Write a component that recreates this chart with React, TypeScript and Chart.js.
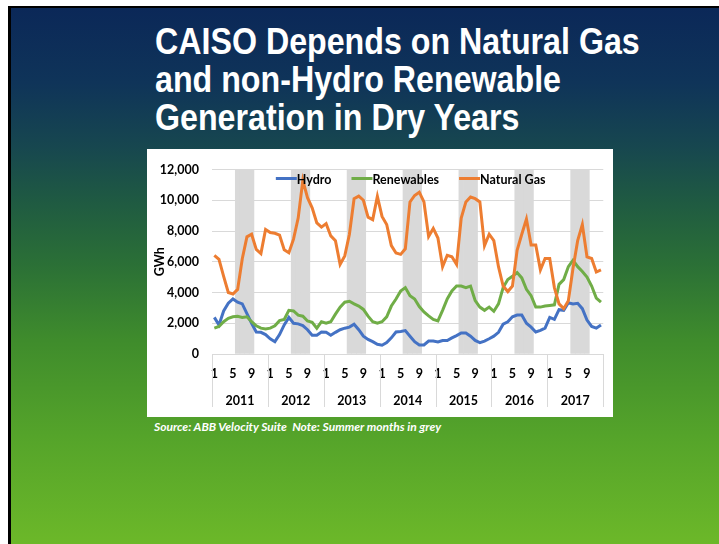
import React, { useEffect, useRef } from "react";
import { Chart, registerables } from "chart.js";

Chart.register(...registerables);

const years = ["2011", "2012", "2013", "2014", "2015", "2016", "2017"];
const monthTickLabels = ["1", "", "", "", "5", "", "", "", "9", "", "", ""];
const summerMonths = [6, 7, 8, 9];
const bandHeight = 12000;

const hydro = [
  2380, 1890, 2800, 3300, 3580, 3370, 3260, 2630, 2000, 1430, 1410, 1260,
  990, 800, 1260, 1890, 2380, 2000, 1960, 1850, 1580, 1220, 1220, 1430,
  1410, 1220, 1410, 1580, 1680, 1750, 1940, 1580, 1160, 950, 800, 630,
  570, 740, 1050, 1430, 1470, 1520, 1160, 800, 590, 590, 840, 840,
  780, 880, 880, 1050, 1200, 1370, 1370, 1160, 880, 740, 840, 990,
  1160, 1410, 1940, 2100, 2420, 2530, 2530, 2000, 1750, 1430, 1540, 1680,
  2380, 2250, 2880, 2840, 3330, 3260, 3300, 2950, 2210, 1790, 1680, 1890,
];

const renewables = [
  1680, 1790, 2100, 2320, 2420, 2460, 2380, 2420, 2100, 1830, 1680, 1620,
  1680, 1830, 2170, 2250, 2840, 2800, 2530, 2460, 2150, 2060, 1680, 2100,
  2000, 2100, 2590, 3050, 3370, 3430, 3260, 3120, 2900, 2460, 2100, 2000,
  2100, 2420, 3120, 3580, 4100, 4320, 3790, 3580, 3090, 2740, 2480, 2250,
  2150, 2840, 3580, 4100, 4420, 4420, 4320, 4420, 3470, 3050, 2840, 3050,
  2780, 3260, 4320, 4840, 5050, 5300, 4950, 4210, 3790, 3050, 3050, 3120,
  3160, 3200, 4530, 4840, 5680, 6100, 5680, 5370, 5010, 4420, 3640, 3370,
];

const naturalGas = [
  6420, 6150, 5050, 4000, 3900, 4200, 6200, 7620, 7790, 6800, 6530, 8100,
  7900, 7850, 7730, 6780, 6590, 7470, 8840, 11300, 10170, 9510, 8530, 8250,
  8480, 7680, 7370, 5830, 6380, 7790, 10100, 10270, 10000, 8900, 8740, 10250,
  8950, 8420, 7050, 6570, 6480, 6840, 9890, 10310, 10525, 9890, 7640, 8170,
  7540, 5680, 6420, 6320, 5830, 8840, 9890, 10210, 10100, 9890, 7050, 7790,
  7370, 5680, 4420, 4060, 4420, 6740, 7790, 8780, 7090, 7090, 5470, 6210,
  6210, 4320, 3260, 2950, 3470, 5580, 7370, 8420, 6320, 6210, 5330, 5470,
];

const seriesNames = ["Hydro", "Renewables", "Natural Gas"];
const seriesColors = ["#4472C4", "#70AD47", "#ED7D31"];

const FONT = "Lato, 'Open Sans', sans-serif";

const legendPlugin = {
  id: "insideLegend",
  afterDatasetsDraw(chart: any) {
    const { ctx, chartArea } = chart;
    ctx.save();
    ctx.font = `bold 12.5px ${FONT}`;
    const sample = 21;
    const gap = 20;
    const widths = seriesNames.map((n) => sample + ctx.measureText(n).width);
    const total = widths.reduce((a, b) => a + b, 0) + gap * (widths.length - 1);
    let x = (chartArea.left + chartArea.right) / 2 - total / 2 + 3;
    const y = chartArea.top + 9;
    seriesNames.forEach((n, i) => {
      ctx.strokeStyle = seriesColors[i];
      ctx.lineWidth = 3;
      ctx.beginPath();
      ctx.moveTo(x, y);
      ctx.lineTo(x + sample, y);
      ctx.stroke();
      ctx.fillStyle = "#000";
      ctx.textBaseline = "middle";
      ctx.textAlign = "left";
      ctx.fillText(n, x + sample, y + 1);
      x += widths[i] + gap;
    });
    ctx.restore();
  },
};

const separatorPlugin = {
  id: "yearSeparators",
  afterDraw(chart: any) {
    const { ctx, chartArea } = chart;
    const x2 = chart.scales.x2;
    const half = (x2.right - x2.left) / (years.length * 2);
    ctx.save();
    ctx.strokeStyle = "#D9D9D9";
    ctx.lineWidth = 1;
    for (let k = 0; k <= years.length; k++) {
      const px =
        k < years.length
          ? x2.getPixelForValue(k) - half
          : x2.getPixelForValue(years.length - 1) + half;
      const xx = Math.round(px) + 0.5;
      ctx.beginPath();
      ctx.moveTo(xx, chartArea.bottom);
      ctx.lineTo(xx, x2.bottom);
      ctx.stroke();
    }
    ctx.restore();
  },
};

function ChartPanel() {
  const ref = useRef<HTMLCanvasElement | null>(null);
  useEffect(() => {
    if (!ref.current) return;
    const labels: string[] = [];
    const bands: (number | null)[] = [];
    years.forEach(() => {
      monthTickLabels.forEach((m, i) => {
        labels.push(m);
        bands.push(summerMonths.includes(i + 1) ? bandHeight : null);
      });
    });
    const chart = new Chart(ref.current, {
      type: "bar",
      data: {
        labels,
        datasets: [
          {
            type: "line",
            label: seriesNames[2],
            data: naturalGas,
            borderColor: seriesColors[2],
            backgroundColor: seriesColors[2],
            borderWidth: 3,
            pointRadius: 0,
            tension: 0,
            order: 1,
          } as any,
          {
            type: "line",
            label: seriesNames[1],
            data: renewables,
            borderColor: seriesColors[1],
            backgroundColor: seriesColors[1],
            borderWidth: 3,
            pointRadius: 0,
            tension: 0,
            order: 2,
          },
          {
            type: "line",
            label: seriesNames[0],
            data: hydro,
            borderColor: seriesColors[0],
            backgroundColor: seriesColors[0],
            borderWidth: 3,
            pointRadius: 0,
            tension: 0,
            order: 3,
          },
          {
            type: "bar",
            label: "Summer",
            data: bands,
            backgroundColor: "#D9D9D9",
            borderWidth: 0,
            barPercentage: 1,
            categoryPercentage: 1,
            order: 10,
          },
        ],
      },
      options: {
        animation: false,
        responsive: false,
        layout: { padding: { left: 0, right: 6, top: 14, bottom: 10 } },
        plugins: {
          legend: { display: false },
          tooltip: { enabled: false },
        },
        scales: {
          y: {
            min: 0,
            max: 12000,
            afterFit: (s: any) => {
              s.width = 65;
            },
            ticks: {
              stepSize: 2000,
              padding: 13,
              color: "#000",
              font: { family: FONT, size: 12.5, weight: "bold" },
              callback: (v: any) => Number(v).toLocaleString("en-US"),
            },
            grid: { color: "#D9D9D9", drawTicks: false, lineWidth: 1 },
            border: { display: false },
            title: {
              display: true,
              text: "GWh",
              color: "#000",
              font: { family: FONT, size: 12.5, weight: "bold" },
              padding: { top: 5, bottom: 0 },
            },
          },
          x: {
            afterFit: (s: any) => {
              s.height = 30;
            },
            ticks: {
              autoSkip: false,
              maxRotation: 0,
              minRotation: 0,
              padding: 12,
              color: "#000",
              font: { family: FONT, size: 12.5, weight: "bold" },
            },
            grid: { display: false, drawTicks: false },
            border: { display: false },
          },
          x2: {
            type: "category",
            position: "bottom",
            labels: years,
            offset: true,
            afterFit: (s: any) => {
              s.height = 23;
            },
            ticks: {
              autoSkip: false,
              maxRotation: 0,
              padding: 9,
              color: "#000",
              font: { family: FONT, size: 12.5, weight: "bold" },
            },
            grid: { display: false, drawTicks: false },
            border: { display: false },
          },
        },
      } as any,
      plugins: [legendPlugin, separatorPlugin],
    });
    return () => chart.destroy();
  }, []);
  return <canvas ref={ref} width={466} height={268} style={{ display: "block" }} />;
}

export default function App() {
  return (
    <div
      style={{
        position: "fixed",
        left: 0,
        top: 0,
        width: 719,
        height: 544,
        background: "#fff",
        overflow: "hidden",
      }}
    >
      <div
        style={{
          position: "absolute",
          left: 8,
          top: 6,
          right: 0,
          bottom: 0,
          borderLeft: "3px solid #000",
          borderTop: "2px solid #000",
          background:
            "linear-gradient(180deg, #0b2858 0%, #0f3459 14%, #17474f 26%, #1f5a42 36%, #2b7036 48%, #3f8c2c 62%, #55a42a 80%, #6cb829 100%)",
        }}
      />
      <div
        style={{
          position: "absolute",
          left: 155,
          top: 23,
          color: "#fff",
          fontFamily: "'Liberation Sans', Arial, sans-serif",
          fontWeight: "bold",
          fontSize: 37,
          lineHeight: "38px",
          whiteSpace: "nowrap",
          transform: "scaleX(0.87)",
          transformOrigin: "0 0",
        }}
      >
        <div>CAISO Depends on Natural Gas</div>
        <div>and non-Hydro Renewable</div>
        <div>Generation in Dry Years</div>
      </div>
      <div
        style={{
          position: "absolute",
          left: 147,
          top: 149,
          width: 466,
          height: 268,
          background: "#fff",
        }}
      >
        <ChartPanel />
      </div>
      <div
        style={{
          position: "absolute",
          left: 154,
          top: 419,
          color: "#fff",
          fontFamily: FONT,
          fontStyle: "italic",
          fontWeight: "bold",
          fontSize: 12,
          whiteSpace: "nowrap",
        }}
      >
        Source: ABB Velocity Suite&nbsp;&nbsp;Note: Summer months in grey
      </div>
    </div>
  );
}
